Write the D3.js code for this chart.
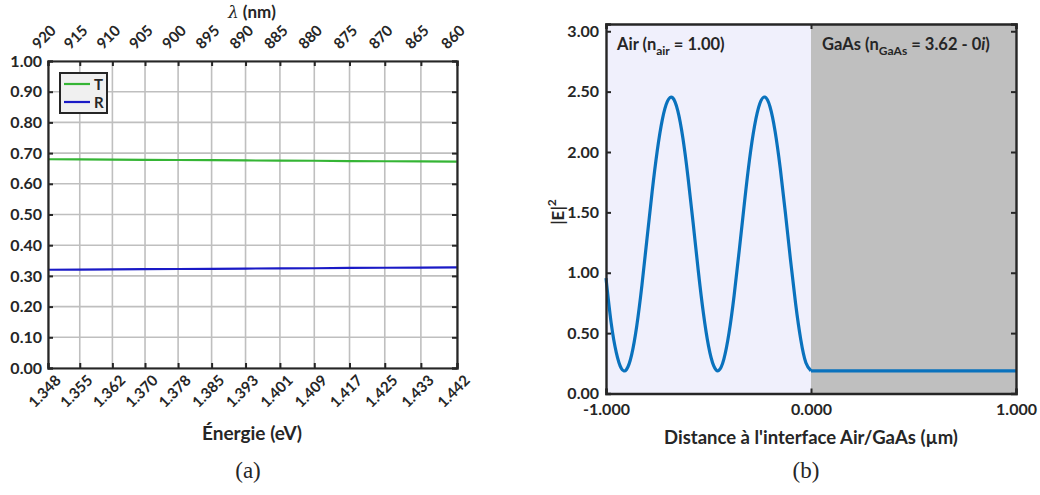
<!DOCTYPE html>
<html><head><meta charset="utf-8">
<script src="https://cdn.jsdelivr.net/npm/d3@7"></script>
<style>
body{margin:0;background:#fff;}
svg text{font-family:Lato,"Open Sans",sans-serif;font-weight:bold;fill:#262626;}
</style></head>
<body><svg id="c" width="1040" height="495"></svg>
<script>
// ---------- Data (a) ----------
const wavelengthLabels = ["920","915","910","905","900","895","890","885","880","875","870","865","860"];
const energyTicks = [1.3477,1.3550,1.3625,1.3700,1.3776,1.3853,1.3931,1.4010,1.4089,1.4170,1.4251,1.4334,1.4417];
const energyLabels = ["1.348","1.355","1.362","1.370","1.378","1.385","1.393","1.401","1.409","1.417","1.425","1.433","1.442"];
const yTicksA = [0,0.1,0.2,0.3,0.4,0.5,0.6,0.7,0.8,0.9,1.0];
const seriesT = [0.680,0.6795,0.679,0.678,0.6775,0.677,0.676,0.6755,0.675,0.674,0.6735,0.673,0.6725];
const seriesR = [0.320,0.3205,0.321,0.322,0.3225,0.323,0.324,0.3245,0.325,0.326,0.3265,0.327,0.3275];

// ---------- Data (b) ----------
const zAir = [-1.000,-0.975,-0.950,-0.925,-0.900,-0.875,-0.850,-0.825,-0.800,-0.775,-0.750,-0.725,-0.700,-0.675,-0.650,-0.625,-0.600,-0.575,-0.550,-0.525,-0.500,-0.475,-0.450,-0.425,-0.400,-0.375,-0.350,-0.325,-0.300,-0.275,-0.250,-0.225,-0.200,-0.175,-0.150,-0.125,-0.100,-0.075,-0.050,-0.025,0.000];
const eAir = [0.956,0.587,0.341,0.207,0.199,0.320,0.559,0.893,1.282,1.670,2.010,2.270,2.421,2.449,2.342,2.115,1.791,1.413,1.019,0.666,0.394,0.230,0.191,0.285,0.500,0.812,1.185,1.575,1.937,2.220,2.400,2.455,2.375,2.170,1.865,1.497,1.107,0.743,0.447,0.254,0.188];
const zGaAs = [0.000,1.000];
const eGaAs = [0.188,0.188];
const xTicksB = [-1,0,1];
const xLabelsB = ["-1.000","0.000","1.000"];
const yTicksB = [0,0.5,1.0,1.5,2.0,2.5,3.0];

const svg = d3.select("#c");
const dark = "#262626";

// ================= Chart (a) =================
const A = {l:48, r:457, t:61, b:368};
const xA = d3.scaleLinear().domain([energyTicks[0], energyTicks[energyTicks.length-1]]).range([A.l, A.r]);
const yA = d3.scaleLinear().domain([0,1]).range([A.b, A.t]);
const gA = svg.append("g");

// grid
gA.append("g").selectAll("line").data(energyTicks).join("line")
  .attr("x1", d=>xA(d)).attr("x2", d=>xA(d)).attr("y1", A.t).attr("y2", A.b)
  .attr("stroke","#bfbfbf").attr("stroke-width",1.6);
gA.append("g").selectAll("line").data(yTicksA).join("line")
  .attr("y1", d=>yA(d)).attr("y2", d=>yA(d)).attr("x1", A.l).attr("x2", A.r)
  .attr("stroke","#bfbfbf").attr("stroke-width",1.6);

// series
const lineA = (arr)=> d3.line().x((d,i)=>xA(energyTicks[i])).y(d=>yA(d))(arr);
gA.append("path").attr("d", lineA(seriesT)).attr("fill","none").attr("stroke","#35b535").attr("stroke-width",2.2);
gA.append("path").attr("d", lineA(seriesR)).attr("fill","none").attr("stroke","#1a1ac6").attr("stroke-width",2.2);

// axes with inward ticks
const axB = d3.axisBottom(xA).tickValues(energyTicks).tickSize(-5).tickFormat((d,i)=>energyLabels[i]);
const axT = d3.axisTop(xA).tickValues(energyTicks).tickSize(-5).tickFormat((d,i)=>wavelengthLabels[i]);
const axL = d3.axisLeft(yA).tickValues(yTicksA).tickSize(-5).tickFormat(d3.format(".2f"));
const axR = d3.axisRight(yA).tickValues(yTicksA).tickSize(-5).tickFormat("");
function styleAxis(g){
  g.select(".domain").attr("stroke",dark).attr("stroke-width",2.2);
  g.selectAll(".tick line").attr("stroke",dark).attr("stroke-width",2);
  g.selectAll(".tick text").attr("fill",dark).style("font-family","Lato").style("font-weight","bold");
}
const gb = gA.append("g").attr("transform",`translate(0,${A.b})`).call(axB).call(styleAxis);
gb.selectAll(".tick text").attr("font-size",15).attr("text-anchor","end")
  .attr("transform","translate(6,6) rotate(-45)").attr("dy","0.7em").attr("y",0);
const gt = gA.append("g").attr("transform",`translate(0,${A.t})`).call(axT).call(styleAxis);
gt.selectAll(".tick text").attr("font-size",15).attr("text-anchor","start")
  .attr("transform","translate(-10,-11) rotate(-45)").attr("dy","0").attr("y",0);
const gl = gA.append("g").attr("transform",`translate(${A.l},0)`).call(axL).call(styleAxis);
gl.selectAll(".tick text").attr("font-size",16).attr("x",-6);
gA.append("g").attr("transform",`translate(${A.r},0)`).call(axR).call(styleAxis);

// axis titles
gA.append("text").attr("x",252).attr("y",18).attr("text-anchor","middle").attr("font-size",17)
  .html('<tspan style="font-family:\'DejaVu Serif\';font-style:italic;font-weight:normal">λ</tspan> (nm)');
gA.append("text").attr("x",252).attr("y",440).attr("text-anchor","middle").attr("font-size",19).text("Énergie (eV)");

// legend
const lg = gA.append("g");
lg.append("rect").attr("x",60).attr("y",73).attr("width",47).attr("height",40)
  .attr("fill","#f0f0f0").attr("stroke",dark).attr("stroke-width",2);
lg.append("line").attr("x1",64).attr("x2",90).attr("y1",84).attr("y2",84).attr("stroke","#35b535").attr("stroke-width",2.2);
lg.append("line").attr("x1",64).attr("x2",90).attr("y1",102).attr("y2",102).attr("stroke","#1a1ac6").attr("stroke-width",2.2);
lg.append("text").attr("x",94).attr("y",89.5).attr("font-size",15).text("T");
lg.append("text").attr("x",94).attr("y",107.5).attr("font-size",15).text("R");

// ================= Chart (b) =================
const B = {l:606, r:1016, t:24, b:393.5};
const xB = d3.scaleLinear().domain([-1,1]).range([B.l, B.r]);
const yB = d3.scaleLinear().domain([0,3.06]).range([B.b, B.t]);
const gB = svg.append("g");

gB.append("rect").attr("x",xB(-1)).attr("y",B.t).attr("width",xB(0)-xB(-1)).attr("height",B.b-B.t).attr("fill","#f0f0fc");
gB.append("rect").attr("x",xB(0)).attr("y",B.t).attr("width",xB(1)-xB(0)).attr("height",B.b-B.t).attr("fill","#bfbfbf");

const lineB = (zs,es)=> d3.line().curve(d3.curveNatural).x((d,i)=>xB(zs[i])).y(d=>yB(d))(es);
gB.append("path").attr("d", lineB(zAir,eAir)).attr("fill","none").attr("stroke","#0a72bd").attr("stroke-width",3.2);
gB.append("path").attr("d", lineB(zGaAs,eGaAs)).attr("fill","none").attr("stroke","#0a72bd").attr("stroke-width",3.2);

const bxB = d3.axisBottom(xB).tickValues(xTicksB).tickSize(-5).tickFormat((d,i)=>xLabelsB[i]);
const bxT = d3.axisTop(xB).tickValues(xTicksB).tickSize(-5).tickFormat("");
const byL = d3.axisLeft(yB).tickValues(yTicksB).tickSize(-5).tickFormat(d3.format(".2f"));
const byR = d3.axisRight(yB).tickValues(yTicksB).tickSize(-5).tickFormat("");
const gbb = gB.append("g").attr("transform",`translate(0,${B.b})`).call(bxB).call(styleAxis);
gbb.selectAll(".tick text").attr("font-size",16).attr("y",10);
gB.append("g").attr("transform",`translate(0,${B.t})`).call(bxT).call(styleAxis);
const gbl = gB.append("g").attr("transform",`translate(${B.l},0)`).call(byL).call(styleAxis);
gbl.selectAll(".tick text").attr("font-size",16).attr("x",-7);
gB.append("g").attr("transform",`translate(${B.r},0)`).call(byR).call(styleAxis);
gB.selectAll(".domain").attr("stroke-width",2.4);

gB.append("text").attr("x",811).attr("y",444).attr("text-anchor","middle").attr("font-size",18.5)
  .text("Distance à l'interface Air/GaAs (µm)");
gB.append("text").attr("transform","translate(564,212) rotate(-90)").attr("text-anchor","middle").attr("font-size",17)
  .html('|E|<tspan dy="-8" font-size="12">2</tspan>');

// annotations
gB.append("text").attr("x",617).attr("y",50).attr("font-size",16.5)
  .html('Air (n<tspan dy="5" font-size="12">air</tspan><tspan dy="-5"> = 1.00)</tspan>');
gB.append("text").attr("x",822).attr("y",50).attr("font-size",16.5)
  .html('GaAs (n<tspan dy="5" font-size="12">GaAs</tspan><tspan dy="-5"> = 3.62 - 0</tspan><tspan font-style="italic">i</tspan>)');

// captions
svg.append("text").attr("x",248).attr("y",478).attr("text-anchor","middle")
  .style("font-family","'Liberation Serif',serif").style("font-weight","normal").attr("font-size",23).text("(a)");
svg.append("text").attr("x",806).attr("y",478).attr("text-anchor","middle")
  .style("font-family","'Liberation Serif',serif").style("font-weight","normal").attr("font-size",23).text("(b)");
</script></body></html>
